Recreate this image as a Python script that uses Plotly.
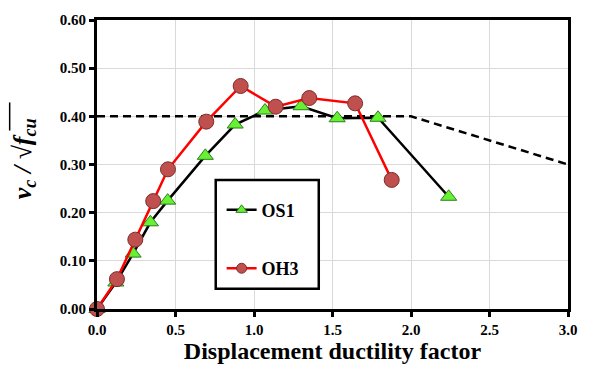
import plotly.graph_objects as go

# Test series: displacement ductility factor vs normalised shear stress
os1_mu = [0.0, 0.12, 0.23, 0.34, 0.45, 0.69, 0.88, 1.07, 1.30, 1.53, 1.79, 2.24]
os1_v = [0.0, 0.055, 0.115, 0.18, 0.225, 0.318, 0.383, 0.412, 0.421, 0.396, 0.397, 0.233]

oh3_mu = [0.0, 0.127, 0.244, 0.358, 0.452, 0.696, 0.915, 1.138, 1.352, 1.644, 1.877]
oh3_v = [0.0, 0.062, 0.144, 0.224, 0.290, 0.389, 0.463, 0.420, 0.438, 0.427, 0.268]

# Code limit envelope
limit_mu = [0.0, 2.0, 3.0]
limit_v = [0.40, 0.40, 0.30]

x_ticks = [0.0, 0.5, 1.0, 1.5, 2.0, 2.5, 3.0]
x_labels = ["0.0", "0.5", "1.0", "1.5", "2.0", "2.5", "3.0"]
y_ticks = [0.0, 0.1, 0.2, 0.3, 0.4, 0.5, 0.6]
y_labels = ["0.00", "0.10", "0.20", "0.30", "0.40", "0.50", "0.60"]

SERIF = "Liberation Serif"

OS1_MARKER = dict(symbol="triangle-up", color="#66F233", line=dict(color="#2E7D1E", width=1))
OH3_MARKER = dict(symbol="circle", color="#C0504D", line=dict(color="#7A2E2B", width=1))

fig = go.Figure()

fig.add_trace(go.Scatter(
    x=limit_mu, y=limit_v, mode="lines",
    line=dict(color="black", width=2.5, dash="8px,5px"),
    showlegend=False, hoverinfo="skip",
))

fig.add_trace(go.Scatter(
    x=os1_mu, y=os1_v, mode="lines+markers", name="OS1",
    line=dict(color="black", width=2.5),
    marker=dict(size=14, **OS1_MARKER),
    cliponaxis=False, showlegend=False,
))

fig.add_trace(go.Scatter(
    x=oh3_mu, y=oh3_v, mode="lines+markers", name="OH3",
    line=dict(color="#FF0000", width=2.5),
    marker=dict(size=15, **OH3_MARKER),
    cliponaxis=False, showlegend=False,
))

# Legend-only entries with smaller symbols
fig.add_trace(go.Scatter(
    x=[None], y=[None], mode="lines+markers", name="<b>OS1</b>",
    line=dict(color="black", width=2.5), marker=dict(size=10, **OS1_MARKER),
    legendgroup="a",
))
fig.add_trace(go.Scatter(
    x=[None], y=[None], mode="lines+markers", name="<b>OH3</b>",
    line=dict(color="#FF0000", width=2.5), marker=dict(size=10, **OH3_MARKER),
    legendgroup="b",
))

axis_common = dict(
    showgrid=True, gridcolor="#D9D9D9", gridwidth=1,
    showline=True, linecolor="black", linewidth=3, mirror=True,
    ticks="outside", ticklen=5, tickwidth=2.5, tickcolor="black",
    tickfont=dict(family=SERIF, size=15, color="black"),
    zeroline=False,
)

fig.update_xaxes(range=[0, 3], tickvals=x_ticks,
                 ticktext=[f"<b>{t}</b>" for t in x_labels],
                 title=dict(text="<b>Displacement ductility factor</b>",
                            font=dict(family=SERIF, size=24, color="black"),
                            standoff=2),
                 **axis_common)
fig.update_yaxes(range=[0, 0.6], tickvals=y_ticks,
                 ticktext=[f"<b>{t}</b>" for t in y_labels],
                 **axis_common)

# Y-axis title with square-root symbol and its vinculum
fig.add_annotation(
    xref="paper", yref="paper", x=-0.156, y=0.52, xanchor="center", yanchor="middle",
    text="<b><i>v<sub>c</sub> / √f<sub>cu</sub></i></b>",
    textangle=-90, showarrow=False,
    font=dict(family=SERIF, size=26, color="black"),
)
fig.add_shape(type="line", xref="paper", yref="paper",
              x0=(8 - 97) / 480, x1=(8 - 97) / 480,
              y0=(313 - 129) / 298, y1=(313 - 100) / 298,
              line=dict(color="black", width=1.5))

# Legend frame
fig.add_shape(type="rect", xref="paper", yref="paper",
              x0=(218 - 97) / 480, x1=(323 - 97) / 480,
              y0=(313 - 292) / 298, y1=(313 - 180) / 298,
              line=dict(color="black", width=2.5), fillcolor="white", layer="above")

fig.update_layout(
    width=589, height=369,
    margin=dict(l=97, r=12, t=15, b=56),
    paper_bgcolor="white", plot_bgcolor="white",
    font=dict(family=SERIF),
    showlegend=True,
    legend=dict(
        x=(224 - 97) / 480, y=(313 - 192) / 298, xanchor="left", yanchor="top",
        bgcolor="rgba(0,0,0,0)", borderwidth=0, tracegroupgap=32,
        font=dict(family=SERIF, size=18, color="black"),
    ),
)

fig.write_html("out.html")
